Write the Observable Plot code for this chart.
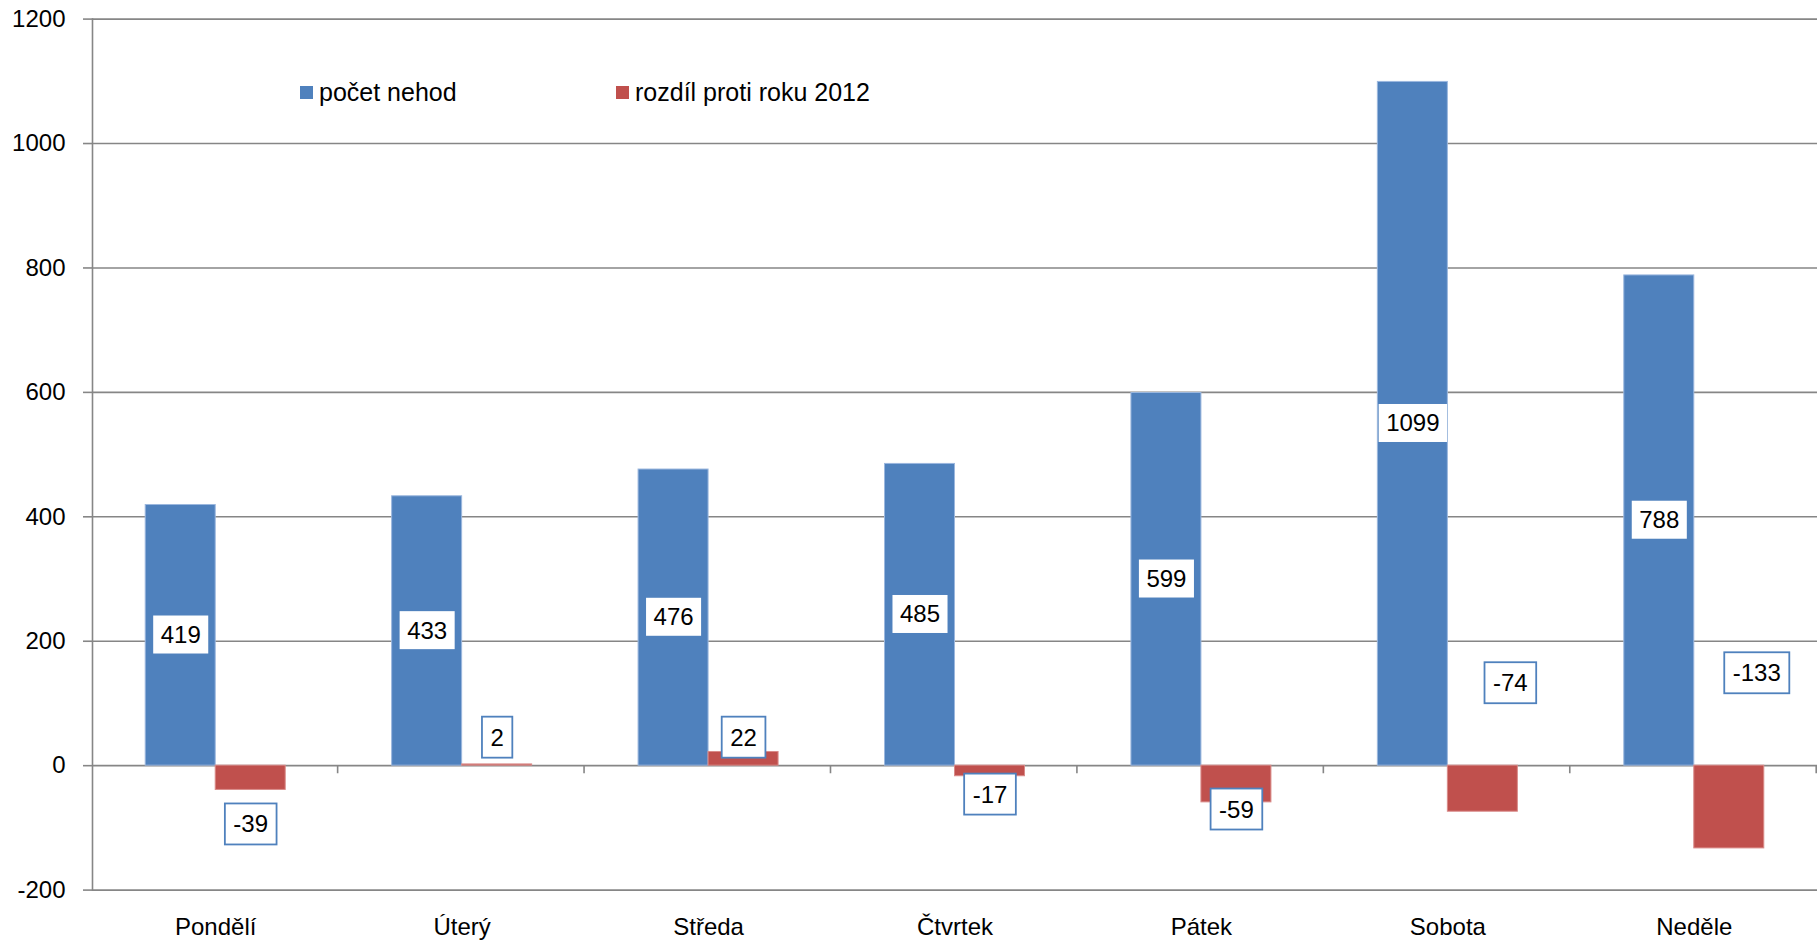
<!DOCTYPE html>
<html><head><meta charset="utf-8">
<script src="https://cdn.jsdelivr.net/npm/d3@7"></script>
<script src="https://cdn.jsdelivr.net/npm/@observablehq/plot@0.6"></script>
<style>html,body{margin:0;padding:0;background:#fff} svg{display:block}</style>
</head><body><div id="chart"></div>
<script>
// ---- data ----
const days = ["Pondělí","Úterý","Středa","Čtvrtek","Pátek","Sobota","Neděle"];
const accidents = [419,433,476,485,599,1099,788];
const diff2012 = [-39,2,22,-17,-59,-74,-133];
const seriesNames = ["počet nehod","rozdíl proti roku 2012"];
const yTicks = [-200,0,200,400,600,800,1000,1200];
// where the difference labels sit in the original (data units) and whether they are pushed right
const diffLabelAt = [-95,44.5,44.5,-47,-71,132,148];
const diffLabelPushed = [false,false,false,false,false,true,true];

const rows = days.map((day,i)=>({day, count: accidents[i], diff: diff2012[i], labelAt: diffLabelAt[i], pushed: diffLabelPushed[i]}));

// ---- layout ----
const W = 1820, H = 940, mL = 92, mR = 3, mT = 18.6, mB = 50.4;
const bw = (W - mL - mR) / days.length;
const barW = 70;
const gap = (bw - 2*barW) / 2;
const BLUE = "#4F81BD", RED = "#C0504D", GRID = "#868686";
const FONT = "'Liberation Sans', Arial, sans-serif";

const plot = Plot.plot({
  width: W, height: H,
  marginLeft: mL, marginRight: mR, marginTop: mT, marginBottom: mB,
  style: {fontFamily: FONT, fontSize: "24px", background: "#fff", color: "black"},
  x: {type: "band", domain: days, padding: 0, round: false, label: null},
  y: {domain: [-200, 1200], label: null},
  marks: [
    Plot.ruleY(yTicks, {stroke: GRID, strokeWidth: 1.6}),
    Plot.frame({anchor: "left", stroke: GRID, strokeWidth: 1.6}),
    Plot.barY(rows, {x: "day", y1: 0, y2: "count", fill: BLUE, stroke: "#9BB7DE", strokeWidth: 1,
      insetLeft: gap, insetRight: bw - gap - barW}),
    Plot.barY(rows, {x: "day", y1: 0, y2: "diff", fill: RED, stroke: "#D98B89", strokeWidth: 1,
      insetLeft: gap + barW, insetRight: gap}),
    Plot.barY(days, {x: d => d, y1: 0, y2: -13, fill: GRID, insetLeft: bw - 1.6}),
    Plot.axisY({ticks: yTicks, tickSize: 9, tickPadding: 18, fontSize: 24, tickFormat: d => String(d),
      stroke: GRID, strokeWidth: 1.6, fill: "black", label: null}),
    Plot.axisX({tickSize: 0, tickPadding: 28, fontSize: 24, fill: "black", label: null}),
    Plot.text(rows, {x: "day", y: d => d.count/2, text: d => String(d.count), dx: -barW/2,
      fontSize: 24, fill: "black", ariaLabel: () => "blue-labels"}),
    Plot.text(rows.filter(d => !d.pushed), {x: "day", y: "labelAt", text: d => String(d.diff), dx: barW/2,
      fontSize: 24, fill: "black", ariaLabel: () => "red-labels"}),
    Plot.text(rows.filter(d => d.pushed), {x: "day", y: "labelAt", text: d => String(d.diff), dx: barW/2 + 27.5,
      fontSize: 24, fill: "black", ariaLabel: () => "red-labels"})
  ]
});
document.getElementById("chart").appendChild(plot);

const svg = d3.select(plot);
function boxes(name, padW, boxH, stroke) {
  const found = [];
  svg.selectAll(`[aria-label="${name}"]`).each(function() {
    if (this.tagName.toLowerCase() === "text") found.push(this);
    else this.querySelectorAll("text").forEach(t => found.push(t));
  });
  found.forEach(node => {
    const bb = node.getBBox();
    const cy = bb.y + bb.height/2;
    const w = bb.width + padW;
    const r = document.createElementNS("http://www.w3.org/2000/svg", "rect");
    r.setAttribute("x", bb.x + bb.width/2 - w/2);
    r.setAttribute("y", cy - boxH/2);
    r.setAttribute("width", w);
    r.setAttribute("height", boxH);
    r.setAttribute("fill", "white");
    r.setAttribute("stroke", stroke || "none");
    r.setAttribute("stroke-width", 1.8);
    const t = node.getAttribute("transform");
    if (t) r.setAttribute("transform", t);
    node.parentNode.insertBefore(r, node);
  });
}
boxes("blue-labels", 15, 38, null);
boxes("red-labels", 17, 41, BLUE);

// legend inside the plot area
const lg = svg.append("g").attr("font-family", FONT).attr("font-size", 25)
  .attr("fill", "black").attr("text-anchor", "start");
const legendItems = [{x: 300, color: BLUE}, {x: 616, color: RED}];
legendItems.forEach((it, i) => {
  lg.append("rect").attr("x", it.x).attr("y", 86).attr("width", 13).attr("height", 13).attr("fill", it.color);
  lg.append("text").attr("x", it.x + 19).attr("y", 101).text(seriesNames[i]);
});
</script></body></html>
